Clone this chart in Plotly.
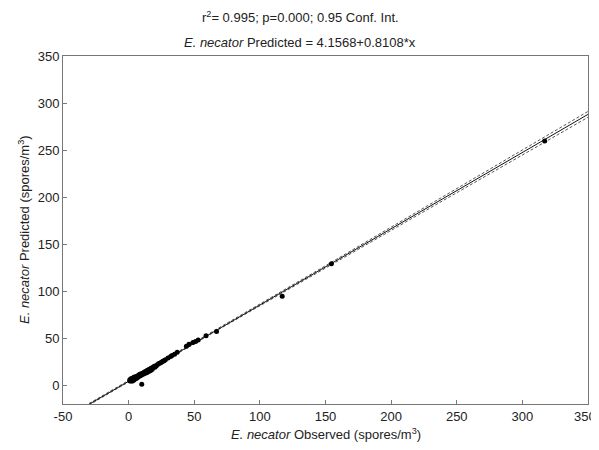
import numpy as np
import plotly.graph_objects as go

# Observed vs predicted (spores/m^3)
observed = [1, 1, 1, 2, 2, 2, 2, 3, 3, 3, 3, 4, 4, 4, 4, 5, 5, 5, 5, 6, 6, 6, 7, 7, 7, 8, 8, 8,
            9, 9, 9, 10, 10, 10, 11, 11, 12, 12, 13, 13, 14, 14, 15, 15, 16, 16, 17, 17, 18, 18,
            19, 20, 20, 21, 22, 23, 24, 25, 26, 27, 28, 30, 32, 33, 35, 37,
            44, 46, 49, 51, 53, 59, 67, 117, 154.5, 317]
predicted = [5.0, 4.5, 6.0, 6.0, 5.0, 7.0, 4.5, 6.5, 5.5, 7.5, 4.5, 7.5, 6.5, 8.5, 5.5,
             8.0, 7.0, 9.0, 6.5, 9.0, 8.0, 7.5, 10.0, 9.0, 8.5, 10.5, 9.5, 11.0,
             11.5, 10.0, 12.0, 1.0, 12.0, 11.0, 13.0, 11.5, 14.0, 12.5, 14.5, 13.0, 15.5, 13.5,
             16.5, 14.5, 17.0, 15.0, 18.0, 16.0, 18.5, 17.0,
             19.5, 20.5, 19.0, 20.5, 22.0, 23.0, 23.5, 24.5, 25.5, 26.0,
             27.0, 29.0, 30.5, 31.5, 33.0, 35.0,
             41.5, 43.5, 45.5, 46.5, 48.0, 52.5, 57.0, 94.5, 129.0, 259.5]

intercept = 4.1568
slope = 0.8108

x_ticks = [-50, 0, 50, 100, 150, 200, 250, 300, 350]
x_tick_text = ["-50", "0", "50", "100", "150", "200", "250", "300", ""]
last_x_label = "350"
y_ticks = [0, 50, 100, 150, 200, 250, 300, 350]

x = np.array(observed, dtype=float)
y = np.array(predicted, dtype=float)
n = len(x)
xs = np.linspace(-50, 350, 401)
fit = intercept + slope * xs
resid = y - (intercept + slope * x)
s = np.sqrt(np.sum(resid ** 2) / (n - 2))
sxx = np.sum((x - x.mean()) ** 2)
half = 1.96 * s * np.sqrt(1.0 / n + (xs - x.mean()) ** 2 / sxx)

fig = go.Figure()
fig.add_trace(go.Scatter(x=xs, y=fit + half, mode="lines",
                         line=dict(color="#555555", width=1, dash="3px,2px"), hoverinfo="skip"))
fig.add_trace(go.Scatter(x=xs, y=fit - half, mode="lines",
                         line=dict(color="#555555", width=1, dash="3px,2px"), hoverinfo="skip"))
fig.add_trace(go.Scatter(x=xs, y=fit, mode="lines",
                         line=dict(color="#111111", width=1)))
fig.add_trace(go.Scatter(x=observed, y=predicted, mode="markers",
                         marker=dict(color="#000000", size=5)))

font = dict(family="Liberation Sans, Arial, sans-serif", color="#222222")
# page body has an 8px margin; compensate so the plot box sits at x 63-588, y 56-404
OFF = 8
W, H = 599 - OFF, 450 - 2 * OFF
L, R, T = 63 - OFF, 11, 56 - OFF
B = OFF + H - 404
plot_h = H - T - B
plot_w = W - L - R


def py(px_above_top):
    return 1 + px_above_top / plot_h


fig.update_layout(
    width=W, height=H,
    paper_bgcolor="white", plot_bgcolor="white",
    showlegend=False,
    margin=dict(l=L, r=R, t=T, b=B),
    font=dict(size=13, **font),
    annotations=[
        dict(text="r<sup>2</sup>= 0.995; p=0.000; 0.95 Conf. Int.",
             xref="paper", yref="paper", x=(300 - 63) / plot_w, y=py(39),
             xanchor="center", yanchor="middle", showarrow=False,
             font=dict(size=13, **font)),
        dict(text="<i>E. necator</i> Predicted = 4.1568+0.8108*x",
             xref="paper", yref="paper", x=(300 - 63) / plot_w, y=py(14),
             xanchor="center", yanchor="middle", showarrow=False,
             font=dict(size=13, **font)),
        dict(text="<i>E. necator</i> Observed (spores/m<sup>3</sup>)",
             xref="paper", yref="paper", x=0.5, y=-(434 - 404) / plot_h,
             xanchor="center", yanchor="middle", showarrow=False,
             font=dict(size=13, **font)),
        dict(text="<i>E. necator</i> Predicted (spores/m<sup>3</sup>)",
             xref="paper", yref="paper", x=(24 - 63) / plot_w, y=0.5,
             xanchor="center", yanchor="middle", showarrow=False, textangle=-90,
             font=dict(size=13, **font)),
        dict(text=last_x_label,
             xref="paper", yref="paper", x=(597 - 63) / plot_w, y=-(416 - 404) / plot_h,
             xanchor="right", yanchor="middle", showarrow=False,
             borderpad=0, font=dict(size=13, **font)),
    ],
)
axis_common = dict(
    showgrid=False, zeroline=False, automargin=False,
    showline=True, linecolor="#777777", linewidth=1, mirror=True,
    ticks="inside", ticklen=4, tickcolor="#777777",
    tickfont=dict(size=13, **font),
)
fig.update_xaxes(range=[-50, 350], tickvals=x_ticks, ticktext=x_tick_text, **axis_common)
fig.update_yaxes(range=[-20, 350], tickvals=y_ticks, **axis_common)

fig.write_html("out.html")
